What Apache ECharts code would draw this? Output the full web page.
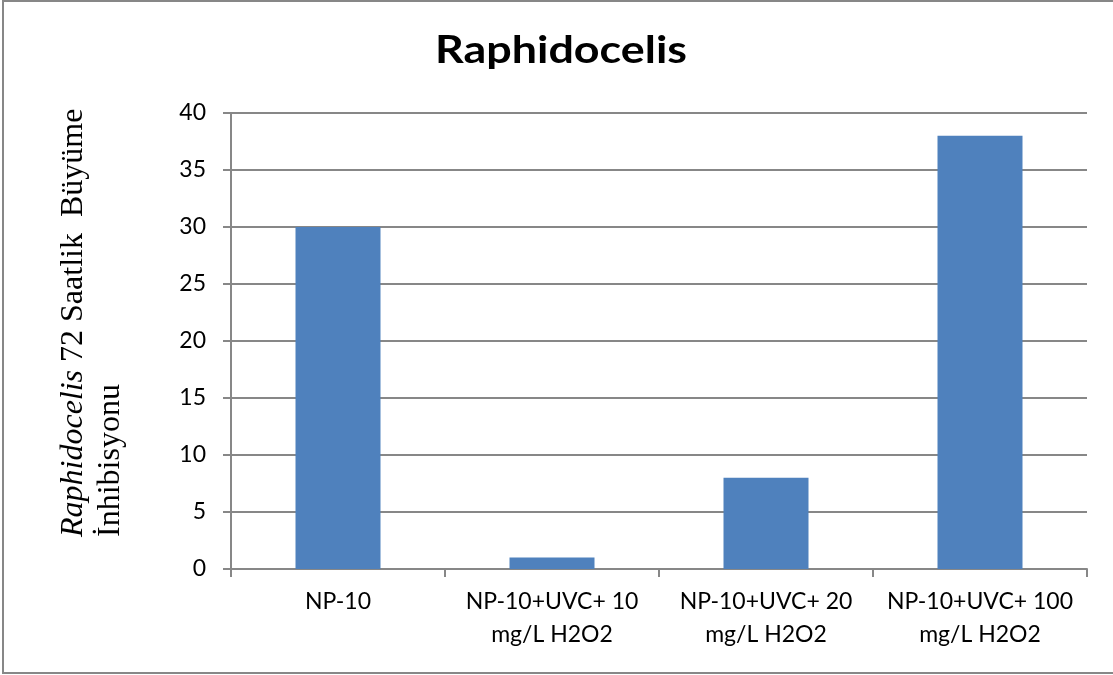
<!DOCTYPE html>
<html>
<head>
<meta charset="utf-8">
<script src="https://cdn.jsdelivr.net/npm/echarts@6/dist/echarts.min.js"></script>
<style>
  html, body { margin: 0; padding: 0; background: #fff; }
  #chart { width: 1113px; height: 675px; }
</style>
</head>
<body>
<div id="chart"></div>
<script>
// Growth inhibition (%) after 72 h for each treatment
const categories = [
  'NP-10',
  'NP-10+UVC+ 10\nmg/L H2O2',
  'NP-10+UVC+ 20\nmg/L H2O2',
  'NP-10+UVC+ 100\nmg/L H2O2'
];
const inhibition = [30, 1, 8, 38];
const yTicks = { min: 0, max: 40, interval: 5 };

const gray = '#878787';
const chart = echarts.init(document.getElementById('chart'), null, { renderer: 'canvas' });

chart.setOption({
  backgroundColor: '#ffffff',
  animation: false,
  grid: { left: 231, right: 26, top: 113, bottom: 106, containLabel: false },
  xAxis: {
    type: 'category',
    data: categories,
    axisLine: { lineStyle: { color: gray, width: 2 } },
    axisTick: { show: true, length: 8, interval: 0, alignWithLabel: false, lineStyle: { color: gray, width: 2 } },
    axisLabel: {
      interval: 0, margin: 16, color: '#000',
      fontFamily: 'Lato', fontSize: 23, lineHeight: 33
    },
    splitLine: { show: false }
  },
  yAxis: {
    type: 'value',
    min: yTicks.min, max: yTicks.max, interval: yTicks.interval,
    axisLine: { show: true, lineStyle: { color: gray, width: 2 } },
    axisTick: { show: true, length: 8, lineStyle: { color: gray, width: 2 } },
    axisLabel: { margin: 25, color: '#000', fontFamily: 'Lato', fontSize: 23 },
    splitLine: { show: true, lineStyle: { color: gray, width: 2 } }
  },
  series: [{
    type: 'bar',
    data: inhibition,
    barWidth: 85,
    itemStyle: { color: '#4F81BD' }
  }],
  graphic: [
    {
      // outer frame (right edge runs off the canvas)
      type: 'rect',
      shape: { x: 3, y: 1, width: 1115, height: 672 },
      style: { fill: 'none', stroke: gray, lineWidth: 2 },
      silent: true
    },
    {
      // chart title, set in a wide bold face
      type: 'text',
      x: 561, y: 51,
      scaleX: 1.18,
      style: {
        text: 'Raphidocelis',
        align: 'center',
        verticalAlign: 'middle',
        fontFamily: 'Lato', fontWeight: 'bold', fontSize: 38,
        fill: '#000'
      }
    },
    {
      // rotated axis title, two lines aligned at the bottom
      type: 'text',
      x: 55, y: 537,
      rotation: Math.PI / 2,
      style: {
        text: '{i|Raphidocelis}{n| 72 Saatlik  Büyüme}\n{n|İnhibisyonu}',
        align: 'left',
        verticalAlign: 'top',
        fill: '#000',
        rich: {
          i: { fontFamily: 'Liberation Serif', fontStyle: 'italic', fontSize: 32, lineHeight: 37, fill: '#000' },
          n: { fontFamily: 'Liberation Serif', fontSize: 32, lineHeight: 37, fill: '#000' }
        }
      }
    }
  ]
});
</script>
</body>
</html>
